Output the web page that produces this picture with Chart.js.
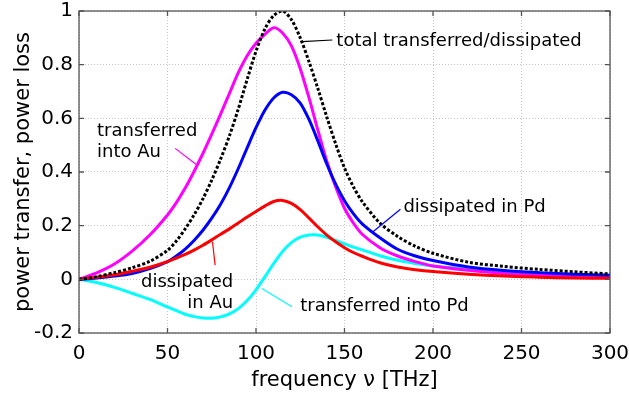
<!DOCTYPE html>
<html>
<head>
<meta charset="utf-8">
<script src="https://cdn.jsdelivr.net/npm/chart.js@4/dist/chart.umd.min.js"></script>
<style>
  body { margin: 0; background: #fff; }
  canvas { display: block; }
</style>
</head>
<body>
<canvas id="c" width="629" height="395"></canvas>
<script>
// frequency in THz
const freq    = [0, 10, 20, 30, 40, 50, 55, 60, 65, 70, 75, 80, 85, 90, 95, 100, 105, 110, 115, 120, 125, 130, 135, 140, 145, 150, 155, 160, 170, 180, 190, 200, 220, 240, 260, 280, 300];
const total   = [0, 0.01, 0.025, 0.043, 0.067, 0.108, 0.143, 0.188, 0.24, 0.30, 0.37, 0.448, 0.535, 0.635, 0.745, 0.85, 0.933, 0.983, 1.0, 0.968, 0.90, 0.81, 0.71, 0.605, 0.505, 0.415, 0.345, 0.29, 0.21, 0.16, 0.123, 0.097, 0.064, 0.048, 0.037, 0.028, 0.02];
const auTrans = [0, 0.024, 0.057, 0.105, 0.165, 0.24, 0.286, 0.34, 0.402, 0.469, 0.541, 0.616, 0.693, 0.77, 0.833, 0.88, 0.913, 0.938, 0.918, 0.87, 0.785, 0.675, 0.555, 0.44, 0.345, 0.265, 0.21, 0.168, 0.118, 0.087, 0.066, 0.05, 0.034, 0.022, 0.015, 0.01, 0.007];
const pdDiss  = [0, 0.005, 0.012, 0.022, 0.04, 0.066, 0.087, 0.113, 0.145, 0.183, 0.228, 0.28, 0.342, 0.413, 0.49, 0.565, 0.63, 0.676, 0.697, 0.688, 0.657, 0.595, 0.515, 0.43, 0.355, 0.293, 0.245, 0.207, 0.155, 0.112, 0.087, 0.07, 0.046, 0.033, 0.025, 0.019, 0.015];
const auDiss  = [0, 0.008, 0.017, 0.03, 0.045, 0.066, 0.079, 0.093, 0.109, 0.127, 0.147, 0.168, 0.188, 0.21, 0.232, 0.253, 0.273, 0.29, 0.294, 0.283, 0.26, 0.228, 0.195, 0.165, 0.14, 0.118, 0.1, 0.086, 0.062, 0.046, 0.036, 0.029, 0.019, 0.012, 0.008, 0.005, 0.004];
const pdTrans = [0, -0.012, -0.03, -0.052, -0.075, -0.103, -0.117, -0.13, -0.139, -0.144, -0.145, -0.14, -0.129, -0.109, -0.079, -0.039, 0.009, 0.059, 0.104, 0.137, 0.157, 0.165, 0.165, 0.157, 0.145, 0.132, 0.12, 0.11, 0.088, 0.071, 0.059, 0.05, 0.039, 0.028, 0.02, 0.014, 0.01];

const xTicks = [0, 50, 100, 150, 200, 250, 300];
const yTicks = [-0.2, 0, 0.2, 0.4, 0.6, 0.8, 1];

// text labels with leader lines, in data units
const notes = [
  { text: ['total transferred/dissipated'], x: 145.4, y: 0.888, align: 'left',  color: '#000000', line: [126.0, 0.886, 143.1, 0.892] },
  { text: ['transferred', 'into Au'],       x: 10.2,  y: 0.55,  align: 'left',  color: '#ff00ff', line: [54.3, 0.488, 66.6, 0.426] },
  { text: ['dissipated', 'in Au'],          x: 87.1,  y: -0.012, align: 'right', color: '#ff0000', line: [76.9, 0.053, 75.4, 0.14] },
  { text: ['dissipated in Pd'],             x: 183.3, y: 0.269, align: 'left',  color: '#0000ff', line: [181.6, 0.261, 166.1, 0.177] },
  { text: ['transferred into Pd'],          x: 125,   y: -0.102, align: 'left', color: '#00ffff', line: [120.3, -0.102, 103.3, -0.034] }
];

const FONT = "'DejaVu Sans', sans-serif";

function pts(ys) {
  return freq.map(function(x, i) { return { x: x, y: ys[i] }; });
}

function line(label, ys, color, dash) {
  return {
    label: label,
    data: pts(ys),
    borderColor: color,
    borderWidth: 3,
    borderDash: dash || [],
    pointRadius: 0,
    fill: false,
    tension: 0.3
  };
}

const framePlugin = {
  id: 'frame',
  afterDatasetsDraw: function(chart) {
    const ctx = chart.ctx;
    const a = chart.chartArea;
    const xs = chart.scales.x, ys = chart.scales.y;
    ctx.save();
    ctx.strokeStyle = '#555';
    ctx.lineWidth = 1.3;
    ctx.strokeRect(a.left, a.top, a.right - a.left, a.bottom - a.top);
    ctx.beginPath();
    xTicks.forEach(function(v) {
      const px = xs.getPixelForValue(v);
      ctx.moveTo(px, a.bottom); ctx.lineTo(px, a.bottom - 5);
      ctx.moveTo(px, a.top);    ctx.lineTo(px, a.top + 5);
    });
    yTicks.forEach(function(v) {
      const py = ys.getPixelForValue(v);
      ctx.moveTo(a.left, py);  ctx.lineTo(a.left + 5, py);
      ctx.moveTo(a.right, py); ctx.lineTo(a.right - 5, py);
    });
    ctx.stroke();
    ctx.restore();
  }
};

const notesPlugin = {
  id: 'notes',
  afterDatasetsDraw: function(chart) {
    const ctx = chart.ctx;
    const xs = chart.scales.x, ys = chart.scales.y;
    ctx.save();
    notes.forEach(function(n) {
      ctx.strokeStyle = n.color;
      ctx.lineWidth = 1.2;
      ctx.beginPath();
      ctx.moveTo(xs.getPixelForValue(n.line[0]), ys.getPixelForValue(n.line[1]));
      ctx.lineTo(xs.getPixelForValue(n.line[2]), ys.getPixelForValue(n.line[3]));
      ctx.stroke();
      ctx.fillStyle = '#000';
      ctx.font = '18px ' + FONT;
      ctx.textAlign = n.align;
      ctx.textBaseline = 'middle';
      const px = xs.getPixelForValue(n.x);
      const py = ys.getPixelForValue(n.y);
      n.text.forEach(function(t, i) { ctx.fillText(t, px, py + i * 20.5); });
    });
    ctx.restore();
  }
};

new Chart(document.getElementById('c'), {
  type: 'line',
  data: {
    datasets: [
      line('total transferred/dissipated', total, '#000000', [3, 2]),
      line('dissipated in Au', auDiss, '#ff0000'),
      line('dissipated in Pd', pdDiss, '#0000ff'),
      line('transferred into Au', auTrans, '#ff00ff'),
      line('transferred into Pd', pdTrans, '#00ffff')
    ]
  },
  options: {
    responsive: false,
    devicePixelRatio: 1,
    animation: false,
    layout: { padding: { top: 11, right: 19, left: 0, bottom: 0 } },
    plugins: { legend: { display: false }, tooltip: { enabled: false } },
    scales: {
      x: {
        type: 'linear', min: 0, max: 300,
        afterBuildTicks: function(s) { s.ticks = xTicks.map(function(v) { return { value: v }; }); },
        afterFit: function(s) { s.height = 62; s.paddingLeft = 0; s.paddingRight = 0; },
        grid: { color: '#c4c4c4', lineWidth: 1, drawTicks: false },
        border: { display: false, dash: [1, 2] },
        ticks: { color: '#000', padding: 9, maxRotation: 0, font: { family: FONT, size: 20 } },
        title: { display: true, text: 'frequency ν [THz]', color: '#000', padding: { top: 0, bottom: 2 }, font: { family: FONT, size: 21 } }
      },
      y: {
        type: 'linear', min: -0.2, max: 1,
        afterBuildTicks: function(s) { s.ticks = yTicks.map(function(v) { return { value: v }; }); },
        afterFit: function(s) { s.width = 79; s.paddingTop = 0; s.paddingBottom = 0; },
        grid: { color: '#c4c4c4', lineWidth: 1, drawTicks: false },
        border: { display: false, dash: [1, 2] },
        ticks: { color: '#000', padding: 6, font: { family: FONT, size: 20 },
                 callback: function(v) { return String(Math.round(v * 10) / 10); } },
        title: { display: true, text: 'power transfer, power loss', color: '#000', padding: { top: 11, bottom: 0 }, font: { family: FONT, size: 21 } }
      }
    }
  },
  plugins: [framePlugin, notesPlugin]
});
</script>
</body>
</html>
